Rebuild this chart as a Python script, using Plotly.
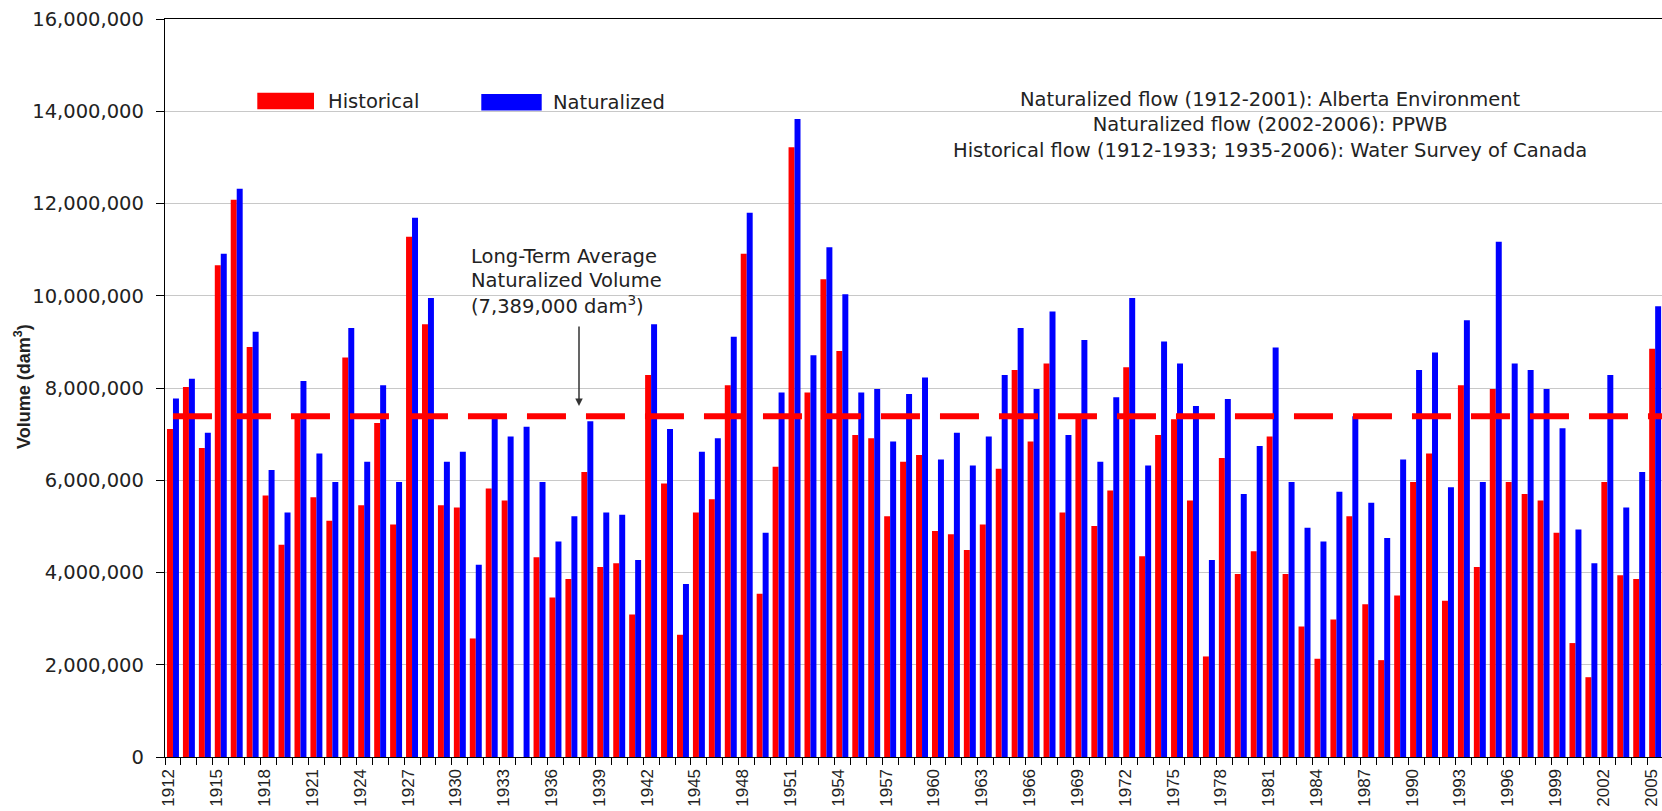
import plotly.graph_objects as go

# Annual flow volumes (dam^3), 1912-2005
years = list(range(1912, 2006))

historical = [
    7110000, 8020000, 6700000, 10660000, 12080000, 8890000, 5670000, 4600000, 7400000, 5630000,   # 1912-1921
    5120000, 8660000, 5460000, 7240000, 5040000, 11280000, 9380000, 5460000, 5410000, 2570000,    # 1922-1931
    5820000, 5560000, None, 4330000, 3460000, 3860000, 6180000, 4120000, 4200000, 3090000,        # 1932-1941
    8280000, 5930000, 2650000, 5300000, 5590000, 8060000, 10910000, 3540000, 6290000, 13220000,   # 1942-1951
    7900000, 10360000, 8800000, 6980000, 6910000, 5220000, 6400000, 6550000, 4900000, 4830000,    # 1952-1961
    4490000, 5040000, 6250000, 8390000, 6840000, 8530000, 5300000, 7350000, 5010000, 5780000,     # 1962-1971
    8450000, 4350000, 6980000, 7320000, 5560000, 2180000, 6480000, 3970000, 4460000, 6950000,     # 1972-1981
    3970000, 2830000, 2130000, 2980000, 5220000, 3310000, 2100000, 3500000, 5960000, 6580000,     # 1982-1991
    3390000, 8060000, 4120000, 7980000, 5960000, 5700000, 5560000, 4860000, 2470000, 1730000,     # 1992-2001
    5960000, 3940000, 3860000, 8850000,                                                           # 2002-2005
]

naturalized = [
    7770000, 8200000, 7030000, 10910000, 12320000, 9220000, 6220000, 5300000, 8150000, 6580000,   # 1912-1921
    5960000, 9300000, 6400000, 8060000, 5960000, 11690000, 9950000, 6400000, 6620000, 4170000,    # 1922-1931
    7370000, 6950000, 7160000, 5960000, 4670000, 5220000, 7280000, 5300000, 5250000, 4270000,     # 1932-1941
    9380000, 7110000, 3750000, 6620000, 6910000, 9110000, 11800000, 4860000, 7900000, 13830000,   # 1942-1951
    8710000, 11050000, 10030000, 7900000, 7980000, 6840000, 7870000, 8230000, 6450000, 7030000,   # 1952-1961
    6320000, 6950000, 8280000, 9300000, 7980000, 9660000, 6980000, 9040000, 6400000, 7800000,     # 1962-1971
    9950000, 6320000, 9010000, 8530000, 7610000, 4270000, 7760000, 5700000, 6740000, 8880000,     # 1972-1981
    5960000, 4970000, 4670000, 5750000, 7390000, 5510000, 4750000, 6450000, 8390000, 8770000,     # 1982-1991
    5850000, 9470000, 5960000, 11170000, 8530000, 8390000, 7980000, 7130000, 4930000, 4200000,    # 1992-2001
    8280000, 5410000, 6180000, 9770000,                                                           # 2002-2005
]

# Long-term average naturalized volume (dam^3)
AVG = 7389000

label_years = list(range(1912, 2006, 3))

RED = "#FF0000"
BLUE = "#0000FF"
TEXT = "#222222"
SANS = "DejaVu Sans"

W, H = 1662, 811
M_L, M_R, M_T, M_B = 165, 0, 19, 54
PW, PH = W - M_L - M_R, H - M_T - M_B

# year labels sit slightly left of the bar pair
LABEL_SHIFT = 0.25


def px(x):
    """Pixel column -> paper x."""
    return (x - M_L) / PW


def py(y):
    """Pixel row -> paper y."""
    return (H - M_B - y) / PH


fig = go.Figure()

fig.add_trace(go.Bar(
    x=years, y=historical, name="Historical",
    marker=dict(color=RED, line=dict(width=0)),
))
fig.add_trace(go.Bar(
    x=years, y=naturalized, name="Naturalized",
    marker=dict(color=BLUE, line=dict(width=0)),
))

# Long-term average reference line
fig.add_trace(go.Scatter(
    x=[years[0], years[-1] + 1], y=[AVG, AVG], mode="lines",
    line=dict(color=RED, width=6, dash="39px,20px"),
    showlegend=False, hoverinfo="skip",
))

fig.update_layout(
    width=W, height=H,
    margin=dict(l=M_L, r=M_R, t=M_T, b=M_B, pad=0),
    paper_bgcolor="white", plot_bgcolor="white",
    barmode="group", bargap=0.25, bargroupgap=0.0,
    showlegend=False,
    font=dict(family=SANS, size=19.5, color=TEXT),
)

fig.update_xaxes(
    automargin=False,
    range=[1911.5, 2005.43],
    tickmode="array",
    tickvals=[y - LABEL_SHIFT for y in label_years],
    ticktext=[str(y) for y in label_years],
    tickangle=-90,
    tickfont=dict(family="Arial", size=17, color=TEXT),
    ticks="outside", ticklen=2, tickcolor="rgba(0,0,0,0)",
    ticklabelstandoff=2, ticklabeloverflow="allow",
    minor=dict(tick0=1911.5, dtick=1, ticks="outside", ticklen=7,
               tickcolor="black", tickwidth=1, showgrid=False),
    showgrid=False, zeroline=False,
    showline=True, linecolor="black", linewidth=1.3, mirror=True,
)

fig.update_yaxes(
    automargin=False,
    range=[0, 16000000], dtick=2000000, tick0=0,
    tickformat=",d",
    tickfont=dict(family=SANS, size=19.5, color=TEXT),
    ticks="outside", ticklen=8, tickcolor="black", tickwidth=1,
    ticklabelstandoff=8,
    showgrid=True, gridcolor="#C8C8C8", gridwidth=1,
    zeroline=False,
    showline=True, linecolor="black", linewidth=1.3,
)

shapes = [
    dict(type="rect", xref="paper", yref="paper",
         x0=px(257.3), x1=px(314), y0=py(109.3), y1=py(92.7),
         fillcolor=RED, line=dict(width=0)),
    dict(type="rect", xref="paper", yref="paper",
         x0=px(481.3), x1=px(541.7), y0=py(110.5), y1=py(94),
         fillcolor=BLUE, line=dict(width=0)),
]

annotations = [
    dict(text="Historical", x=px(326), y=py(101.7), xref="paper", yref="paper",
         xanchor="left", yanchor="middle", showarrow=False),
    dict(text="Naturalized", x=px(551), y=py(102.3), xref="paper", yref="paper",
         xanchor="left", yanchor="middle", showarrow=False),
    dict(text="Naturalized flow (1912-2001): Alberta Environment<br>"
              "Naturalized flow (2002-2006): PPWB<br>"
              "Historical flow (1912-1933; 1935-2006): Water Survey of Canada",
         x=px(1270), y=py(124.5), xref="paper", yref="paper",
         xanchor="center", yanchor="middle", align="center", showarrow=False),
    dict(text="Long-Term Average", x=px(469), y=py(256.7), xref="paper", yref="paper",
         xanchor="left", yanchor="middle", showarrow=False),
    dict(text="Naturalized Volume", x=px(469), y=py(280.5), xref="paper", yref="paper",
         xanchor="left", yanchor="middle", showarrow=False),
    dict(text=f"({AVG:,} dam<sup>3</sup>)", x=px(469), y=py(305), xref="paper", yref="paper",
         xanchor="left", yanchor="middle", showarrow=False),
    dict(text="", x=px(579), y=py(406), xref="paper", yref="paper",
         showarrow=True, ax=0, ay=-81, arrowhead=2, arrowsize=1,
         arrowwidth=1.5, arrowcolor="#333333", standoff=0),
    dict(text="<b>Volume (dam<sup>3</sup>)</b>", x=px(22), y=py(387),
         xref="paper", yref="paper", xanchor="center", yanchor="middle",
         textangle=-90, showarrow=False,
         font=dict(family="Liberation Sans", size=18, color=TEXT)),
]

fig.update_layout(shapes=shapes, annotations=annotations)

fig.write_html("out.html")
